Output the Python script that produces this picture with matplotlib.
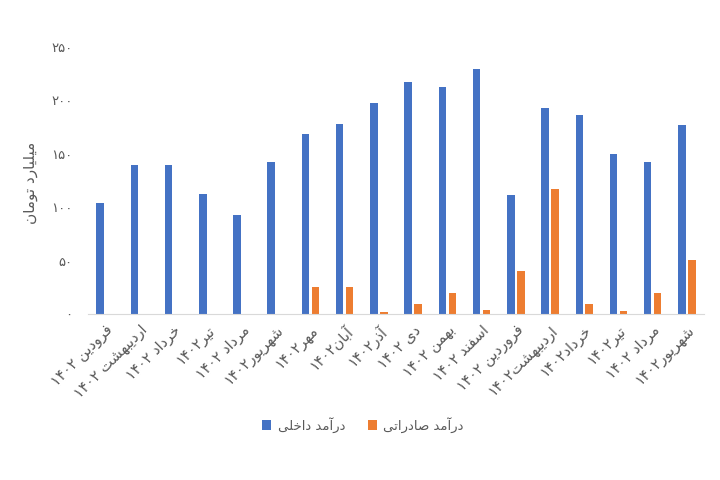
import numpy as np
import matplotlib
matplotlib.use("Agg")
from matplotlib import pyplot as plt

# داده ها
months = ["فرودین ۱۴۰۲", "اردیبهشت ۱۴۰۲", "خرداد ۱۴۰۲", "تیر۱۴۰۲", "مرداد ۱۴۰۲", "شهریور۱۴۰۲",
          "مهر۱۴۰۲", "آبان۱۴۰۲", "آذر۱۴۰۲", "دی ۱۴۰۲", "بهمن ۱۴۰۲", "اسفند ۱۴۰۲",
          "فروردین ۱۴۰۲", "اردیبهشت۱۴۰۲", "خرداد۱۴۰۲", "تیر۱۴۰۲", "مرداد ۱۴۰۲", "شهریور۱۴۰۲"]
domestic = [104, 140, 140, 112, 93, 142, 169, 178, 198, 217, 213, 229, 111, 193, 186, 150, 142, 177]
export = [0, 0, 0, 0, 0, 0, 25, 25, 1.5, 9.5, 19.5, 4, 40.5, 117, 9.5, 2.5, 19.5, 51]
yticks = [0, 50, 100, 150, 200, 250]

# شکل دادن حروف فارسی (matplotlib خودش اتصال و راست به چپ ندارد)
FORMS = {  # isolated, final, initial, medial
    "ا": ("\uFE8D", "\uFE8E", None, None), "آ": ("\uFE81", "\uFE82", None, None),
    "د": ("\uFEA9", "\uFEAA", None, None), "ذ": ("\uFEAB", "\uFEAC", None, None),
    "ر": ("\uFEAD", "\uFEAE", None, None), "ز": ("\uFEAF", "\uFEB0", None, None),
    "و": ("\uFEED", "\uFEEE", None, None),
    "ب": ("\uFE8F", "\uFE90", "\uFE91", "\uFE92"), "ت": ("\uFE95", "\uFE96", "\uFE97", "\uFE98"),
    "خ": ("\uFEA5", "\uFEA6", "\uFEA7", "\uFEA8"), "س": ("\uFEB1", "\uFEB2", "\uFEB3", "\uFEB4"),
    "ش": ("\uFEB5", "\uFEB6", "\uFEB7", "\uFEB8"), "ص": ("\uFEB9", "\uFEBA", "\uFEBB", "\uFEBC"),
    "ف": ("\uFED1", "\uFED2", "\uFED3", "\uFED4"), "ل": ("\uFEDD", "\uFEDE", "\uFEDF", "\uFEE0"),
    "م": ("\uFEE1", "\uFEE2", "\uFEE3", "\uFEE4"), "ن": ("\uFEE5", "\uFEE6", "\uFEE7", "\uFEE8"),
    "ه": ("\uFEE9", "\uFEEA", "\uFEEB", "\uFEEC"), "ی": ("\uFEEF", "\uFEF0", "\uFEF3", "\uFEF4"),
}


def fa(text):
    out = []
    for i, c in enumerate(text):
        if c not in FORMS:
            out.append(c)
            continue
        prev = text[i - 1] if i > 0 else ""
        nxt = text[i + 1] if i + 1 < len(text) else ""
        join_prev = prev in FORMS and FORMS[prev][2] is not None
        join_next = nxt in FORMS and FORMS[c][2] is not None
        iso, fin, ini, med = FORMS[c]
        if join_prev and join_next:
            out.append(med)
        elif join_prev:
            out.append(fin)
        elif join_next:
            out.append(ini)
        else:
            out.append(iso)
    s = "".join(out)[::-1]
    # اعداد چپ به راست می مانند
    res, run = "", ""
    for c in s:
        if "\u06F0" <= c <= "\u06F9":
            run += c
        else:
            res += run[::-1] + c
            run = ""
    return res + run[::-1]


def fa_num(n):
    return "".join(chr(0x06F0 + int(d)) for d in str(n))


plt.rcParams["font.family"] = ["DejaVu Sans"]
gray = "#595959"

fig = plt.figure(figsize=(7.2, 4.8), dpi=100)
ax = fig.add_axes([0.1222, 0.3458, 0.8556, 0.5562])

x = np.arange(len(months))
w = 0.22
ax.bar(x - 0.145, domestic, w, color="#4472C4", label=fa("درآمد داخلی"))
ax.bar(x + 0.145, export, w, color="#ED7D31", label=fa("درآمد صادراتی"))

ax.set_xlim(-0.5, len(months) - 0.5)
ax.set_ylim(0, 250)
ax.set_yticks(yticks)
ax.set_yticklabels([fa_num(v) for v in yticks], color=gray, fontsize=9.5)
ax.set_xticks(x)
ax.set_xticklabels([fa(m) for m in months], rotation=45, ha="right",
                   rotation_mode="anchor", color=gray, fontsize=10.5)
ax.tick_params(axis="y", length=0, pad=11)
ax.tick_params(axis="x", length=0, pad=6)
for side in ["top", "right", "left"]:
    ax.spines[side].set_visible(False)
ax.spines["bottom"].set_color("#D9D9D9")

ax.set_ylabel(fa("میلیارد تومان"), color=gray, fontsize=11)
ax.yaxis.set_label_coords(-0.081, 0.49)

fig.legend(loc="center", bbox_to_anchor=(0.504, 0.115), ncol=2, frameon=False,
           fontsize=9.5, labelcolor=gray, handlelength=0.7, handleheight=0.7,
           columnspacing=1.7, handletextpad=0.5)

fig.savefig("out.png", dpi=100)
